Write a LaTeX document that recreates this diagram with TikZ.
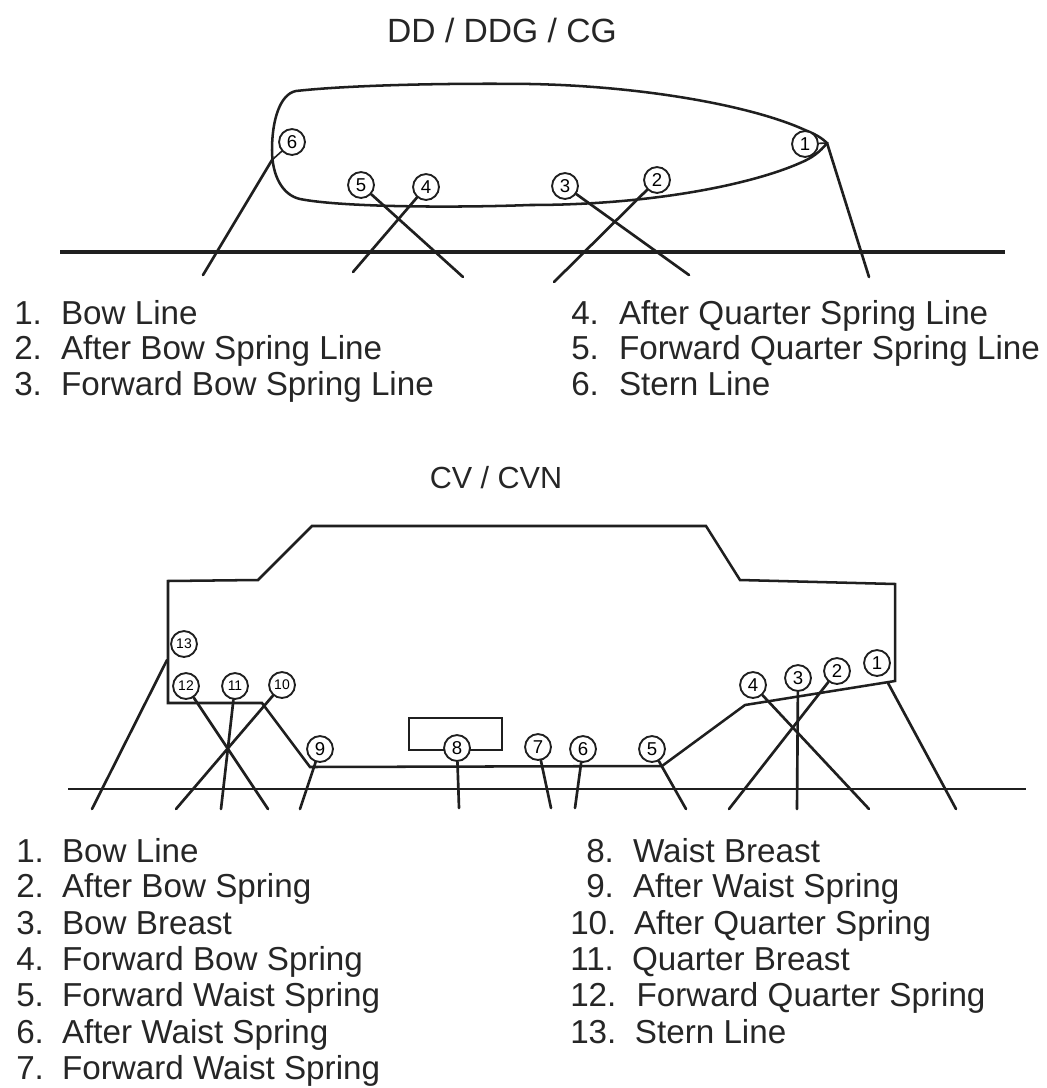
\documentclass[tikz,border=0pt]{standalone}
\usepackage{fontspec}
\setmainfont{Liberation Sans}
\newcommand{\numlab}[3]{\makebox[#1][l]{#2}#3}
\begin{document}
\begin{tikzpicture}[x=0.0264583cm,y=-0.0264583cm,
  ln/.style={line width=2pt,black!88,line cap=round},
  ship/.style={line width=1.9pt,black!88},
  groundA/.style={line width=2.8pt,black!88},
  groundB/.style={line width=2.1pt,black!88},
  num/.style={circle,draw=black!88,line width=1.4pt,inner sep=0pt,minimum size=19.5pt,font=\fontsize{14pt}{15pt}\selectfont,fill=white},
  numS/.style={num,font=\fontsize{10.5pt}{11pt}\selectfont},
  lab/.style={anchor=base west,font=\fontsize{25pt}{28pt}\selectfont,black!85,inner sep=0pt},
  ttl/.style={anchor=center,font=\fontsize{25.3pt}{28pt}\selectfont,black!85,inner sep=0pt}]
\useasboundingbox (0,0) rectangle (1046,1088);
\fill[white] (0,0) rectangle (1046,1088);
\node[ttl] (t1) at (502,30) {DD / DDG / CG};
\node[ttl,font=\fontsize{23pt}{26pt}\selectfont] (t2) at (496,478) {CV / CVN};
% hull 1
\draw[ship] (296,91) .. controls (350,85) and (450,83) .. (530,84) .. controls (640,86) and (750,105) .. (805,130) .. controls (815,134) and (822,138) .. (827,143) .. controls (820,152) and (812,158) .. (800,163) .. controls (750,185) and (650,205) .. (530,205) .. controls (450,208) and (340,207) .. (300,199) .. controls (282,195) and (272,175) .. (272,150) .. controls (272,120) and (280,94) .. (296,91) -- cycle;
\draw[groundA] (60,252) -- (1005,252);
\coordinate (a1) at (869,277); \coordinate (a2) at (554,282); \coordinate (a3) at (689,275);
\coordinate (a4) at (353,272); \coordinate (a5) at (463,277); \coordinate (a6) at (203,275);
\coordinate (s1) at (827,143); \coordinate (s6) at (272,160);
\node[num] (n1) at (805,144) {1};
\node[num] (n2) at (657,180) {2};
\node[num] (n3) at (565,186) {3};
\node[num] (n4) at (426,187) {4};
\node[num] (n5) at (361,185) {5};
\node[num] (n6) at (292,142) {6};
\draw[ln] (s1) -- (a1);
\draw[ln] (n2) -- (a2);
\draw[ln] (n3) -- (a3);
\draw[ln] (n4) -- (a4);
\draw[ln] (n5) -- (a5);
\draw[ln] (s6) -- (a6);
\draw[ln,line width=1.2pt] (n6) -- (s6);
\draw[ln,line width=1.2pt] (n1) -- (s1);
% labels 1
\node[lab] (l1) at (14,324) {\numlab{35.2pt}{1.}{Bow Line}};
\node[lab] (l2) at (14,359) {\numlab{35.2pt}{2.}{After Bow Spring Line}};
\node[lab] (l3) at (14,395) {\numlab{35.2pt}{3.}{Forward Bow Spring Line}};
\node[lab] (l4) at (571,324) {\numlab{36pt}{4.}{After Quarter Spring Line}};
\node[lab] (l5) at (571,359) {\numlab{36pt}{5.}{Forward Quarter Spring Line}};
\node[lab] (l6) at (571,395) {\numlab{36pt}{6.}{Stern Line}};
% ship 2
\draw[ship] (168,581) -- (258,580) -- (312,526) -- (706,526) -- (740,580) -- (895,584) -- (895,681) -- (745,705) -- (662,766) -- (310,767) -- (262,703) -- (168,703) -- cycle;
\draw[ship] (409,718) rectangle (502,750);
\draw[groundB] (68,789) -- (1026,789);
\coordinate (b1) at (956,809); \coordinate (b2) at (729,809); \coordinate (b3) at (797,809);
\coordinate (b4) at (869,809); \coordinate (b5) at (686,809); \coordinate (b6) at (575,808);
\coordinate (b7) at (551,808); \coordinate (b8) at (459,808); \coordinate (b9) at (300,809);
\coordinate (b10) at (176,809); \coordinate (b11) at (221,809); \coordinate (b12) at (268,809); \coordinate (b13) at (92,809);
\coordinate (s13) at (167,660); \coordinate (s01) at (888,683);
\node[num] (m1) at (877,663) {1};
\node[num] (m2) at (837,671) {2};
\node[num] (m3) at (798,678) {3};
\node[num] (m4) at (753,685) {4};
\node[num] (m5) at (652,749) {5};
\node[num] (m6) at (583,749) {6};
\node[num] (m7) at (538,747) {7};
\node[num] (m8) at (457,748) {8};
\node[num] (m9) at (320,749) {9};
\node[numS] (m10) at (282,685) {10};
\node[numS] (m11) at (235,686) {11};
\node[numS] (m12) at (186,686) {12};
\node[numS] (m13) at (184,644) {13};
\draw[ln] (s01) -- (b1);
\draw[ln] (m2) -- (b2);
\draw[ln] (m3) -- (b3);
\draw[ln] (m4) -- (b4);
\draw[ln] (m5) -- (b5);
\draw[ln] (m6) -- (b6);
\draw[ln] (m7) -- (b7);
\draw[ln] (m8) -- (b8);
\draw[ln] (m9) -- (b9);
\draw[ln] (m10) -- (b10);
\draw[ln] (m11) -- (b11);
\draw[ln] (m12) -- (b12);
\draw[ln] (s13) -- (b13);
% labels 2
\node[lab] at (16,862) {\numlab{34.5pt}{1.}{Bow Line}};
\node[lab] at (16,897) {\numlab{34.5pt}{2.}{After Bow Spring}};
\node[lab] at (16,934) {\numlab{34.5pt}{3.}{Bow Breast}};
\node[lab] at (16,970) {\numlab{34.5pt}{4.}{Forward Bow Spring}};
\node[lab] at (16,1006) {\numlab{34.5pt}{5.}{Forward Waist Spring}};
\node[lab] at (16,1043) {\numlab{34.5pt}{6.}{After Waist Spring}};
\node[lab] at (16,1079) {\numlab{34.5pt}{7.}{Forward Waist Spring}};
\node[lab] at (586,862) {\numlab{35.2pt}{8.}{Waist Breast}};
\node[lab] at (586,897) {\numlab{35.2pt}{9.}{After Waist Spring}};
\node[lab] at (570,934) {\numlab{48pt}{10.}{After Quarter Spring}};
\node[lab] at (570,970) {\numlab{46.5pt}{11.}{Quarter Breast}};
\node[lab] at (570,1006) {\numlab{50pt}{12.}{Forward Quarter Spring}};
\node[lab] at (570,1043) {\numlab{48.7pt}{13.}{Stern Line}};
\end{tikzpicture}
\end{document}
